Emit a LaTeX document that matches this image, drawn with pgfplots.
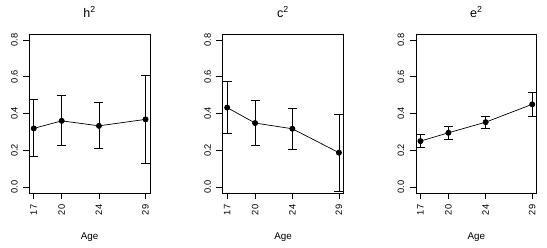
\documentclass[border=0pt]{standalone}
\usepackage{pgfplots}
\pgfplotsset{compat=1.18}
\usepackage{fontspec}
\setmainfont{Liberation Sans}
\begin{document}
\begin{tikzpicture}
\path[use as bounding box] (0,0) rectangle (547bp,248bp);
\pgfplotsset{
  rpanel/.style={
    scale only axis,
    width=120.7bp, height=159bp,
    xmin=16.52, xmax=29.48, ymin=-0.032, ymax=0.832,
    xtick={17,20,24,29}, ytick={0,0.2,0.4,0.6,0.8},
    yticklabel style={/pgf/number format/fixed, /pgf/number format/fixed zerofill, /pgf/number format/precision=1},
    /pgf/number format/assume math mode=true,
    xtick pos=left, ytick pos=left, tick align=outside,
    major tick length=6.5bp,
    tick style={black, line width=0.7bp},
    axis line style={black, line width=0.8bp},
    ticklabel style={font=\fontsize{9.3bp}{11bp}\selectfont},
    xticklabel style={rotate=90, anchor=east, inner sep=5bp},
    yticklabel style={rotate=90, anchor=south, inner sep=5bp},
    every axis x label/.style={at={(axis description cs:0.5,0)}, anchor=center, yshift=-43.7bp, font=\fontsize{9.8bp}{11bp}\selectfont},
    every axis title/.style={at={(axis description cs:0.5,1)}, anchor=center, yshift=22bp, font=\fontsize{12.5bp}{14bp}\selectfont},
    xlabel={Age},
    clip=false,
  },
  rplot/.style={black, line width=0.7bp, mark=*, mark size=2.6bp,
    mark options={solid, fill=black},
    error bars/.cd, y dir=both, y explicit,
    error bar style={black, line width=0.7bp},
    error mark options={rotate=90, mark size=4.5bp, line width=0.7bp}},
}
\begin{axis}[rpanel, at={(29.3bp,55bp)}, anchor=south west, title={h\textsuperscript{2}}]
\addplot[rplot] coordinates {
  (17,0.319) += (0,0.158) -= (0,0.153)
  (20,0.360) += (0,0.137) -= (0,0.133)
  (24,0.333) += (0,0.126) -= (0,0.124)
  (29,0.368) += (0,0.237) -= (0,0.238)
};
\end{axis}
\begin{axis}[rpanel, at={(222.7bp,55bp)}, anchor=south west, title={c\textsuperscript{2}}]
\addplot[rplot] coordinates {
  (17,0.432) += (0,0.143) -= (0,0.140)
  (20,0.348) += (0,0.124) -= (0,0.123)
  (24,0.317) += (0,0.112) -= (0,0.112)
  (29,0.187) += (0,0.209) -= (0,0.210)
};
\end{axis}
\begin{axis}[rpanel, at={(416bp,55bp)}, anchor=south west, title={e\textsuperscript{2}}]
\addplot[rplot] coordinates {
  (17,0.250) += (0,0.036) -= (0,0.036)
  (20,0.295) += (0,0.033) -= (0,0.034)
  (24,0.353) += (0,0.033) -= (0,0.032)
  (29,0.450) += (0,0.064) -= (0,0.066)
};
\end{axis}
\end{tikzpicture}
\end{document}
